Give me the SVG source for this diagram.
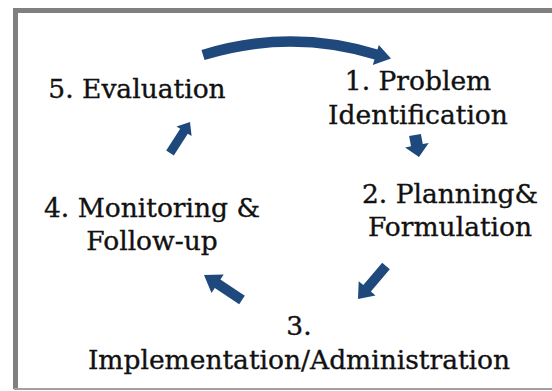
<svg xmlns="http://www.w3.org/2000/svg" width="552" height="391" viewBox="0 0 552 391">
<style>
.t{font-family:"DejaVu Serif","Liberation Serif",serif;font-size:26.5px;fill:#111;stroke:#111;stroke-width:0.35;text-anchor:middle}
.a{fill:#1F497D}
</style>
<rect width="552" height="391" fill="#fff"/>
<g id="frame">
<path d="M15.5,389 V10.5 H552" fill="none" stroke="#808080" stroke-width="5"/>
<line x1="14" y1="389" x2="552" y2="389" stroke="#a0a0a0" stroke-width="2"/>
</g>
<g id="connectors">
<path d="M203,55 Q291,28 378,55" fill="none" stroke="#1F497D" stroke-width="10.5"/>
<polygon class="a" points="378.8,45 391,58.5 372.8,65"/>
<polygon class="a" points="173.8,155.4 187.8,133.7 191.6,136.1 190,122 176.5,126.4 180.2,128.8 166.2,150.6"/>
<polygon class="a" points="409.1,136.1 411,146.3 405.1,147.4 419,157 428.7,143 422.8,144.1 420.9,133.9"/>
<polygon class="a" points="382.2,262.8 363.3,285.1 358.7,281.2 358,299 375.5,295.4 370.9,291.5 389.8,269.2"/>
<polygon class="a" points="244.8,295.8 220.4,279.6 223.7,274.6 204,275 211.5,293 214.8,288 239.2,304.2"/>
</g>
<g id="n1"><text class="t" x="418" y="90">1. Problem</text><text class="t" x="418" y="124">Identification</text></g>
<g id="n2"><text class="t" x="450" y="203">2. Planning&amp;</text><text class="t" x="450" y="236">Formulation</text></g>
<g id="n3"><text class="t" x="299" y="335">3.</text><text class="t" x="299" y="369">Implementation/Administration</text></g>
<g id="n4"><text class="t" x="152" y="217">4. Monitoring &amp;</text><text class="t" x="152" y="250">Follow-up</text></g>
<g id="n5"><text class="t" x="137" y="98">5. Evaluation</text></g>
</svg>
